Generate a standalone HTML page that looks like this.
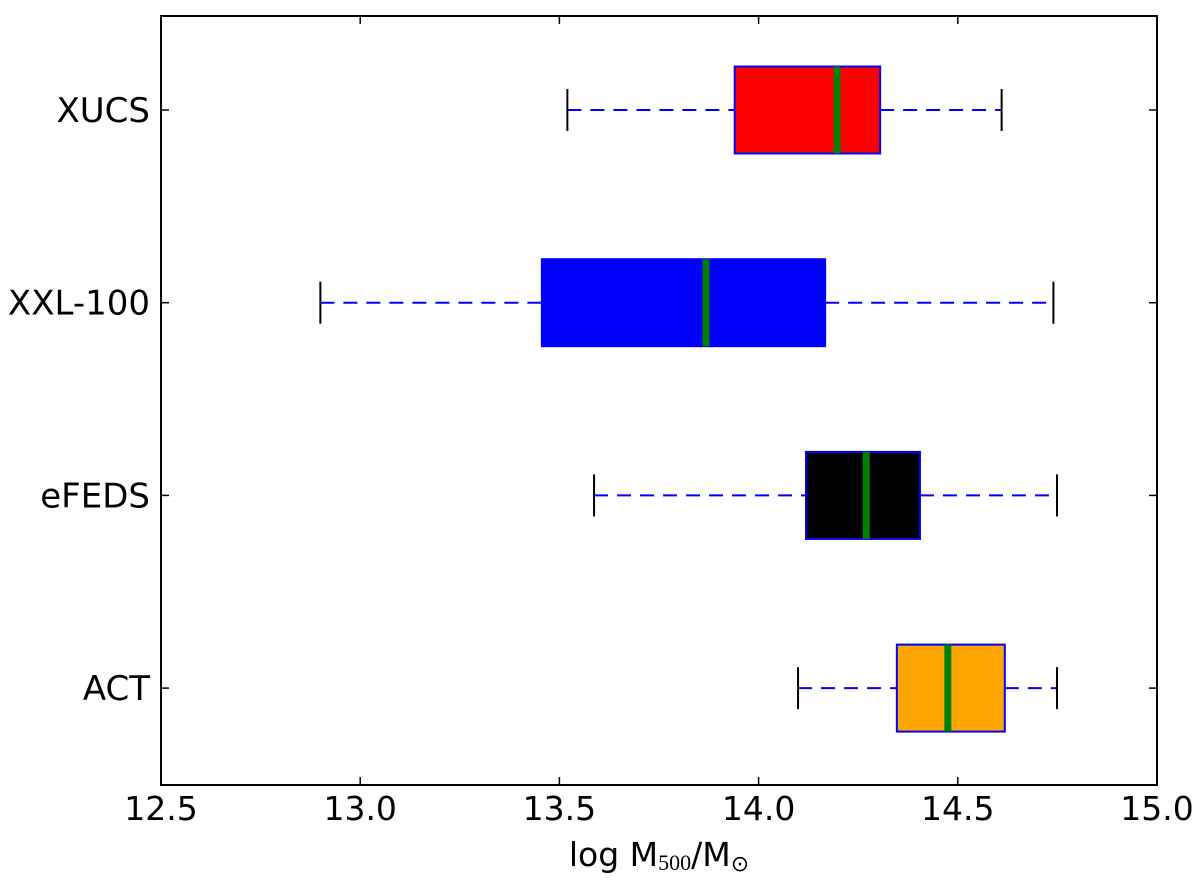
<!DOCTYPE html>
<html><head><meta charset="utf-8"><style>
html,body{margin:0;padding:0;background:#fff;}
svg{display:block;font-family:"DejaVu Sans","Liberation Sans",sans-serif;}
</style></head><body>
<svg id="chart" width="1200" height="882" xmlns="http://www.w3.org/2000/svg"></svg>
<script>
const categories = ["XUCS","XXL-100","eFEDS","ACT"];
const whiskLow = [13.52, 12.90, 13.587, 14.099];
const q1 = [13.94, 13.456, 14.119, 14.347];
const medians = [14.197, 13.868, 14.27, 14.475];
const q3 = [14.305, 14.167, 14.405, 14.618];
const whiskHigh = [14.61, 14.74, 14.749, 14.749];
const fills = ["#ff0000","#0000ff","#000000","#ffa500"];
const xTicks = [12.5,13.0,13.5,14.0,14.5,15.0];
const xTickLabels = ["12.5","13.0","13.5","14.0","14.5","15.0"];

const L=161,R=1157,T=16,B=785;
const xMin=12.5,xMax=15.0;
const x=v=>L+(v-xMin)/(xMax-xMin)*(R-L);
const y=i=>110+i*192.7;
const svg=document.getElementById('chart');
const NS='http://www.w3.org/2000/svg';
function mk(tag,attrs,name,parent){const e=document.createElementNS(NS,tag);for(const k in attrs)e.setAttribute(k,attrs[k]);


(parent||svg).appendChild(e);return e;}

categories.forEach((c,i)=>{
  const g=mk('g',{},'box-'+c.toLowerCase());
  const cy=y(i),h=43.5;
  mk('line',{x1:x(whiskLow[i]),x2:x(q1[i]),y1:cy,y2:cy,stroke:'#0000ff','stroke-width':2,'stroke-dasharray':'14,9'},'whisker-low',g);
  mk('line',{x1:x(q3[i]),x2:x(whiskHigh[i]),y1:cy,y2:cy,stroke:'#0000ff','stroke-width':2,'stroke-dasharray':'14,9'},'whisker-high',g);
  mk('line',{x1:x(whiskLow[i]),x2:x(whiskLow[i]),y1:cy-21,y2:cy+21,stroke:'#000','stroke-width':2},'cap-low',g);
  mk('line',{x1:x(whiskHigh[i]),x2:x(whiskHigh[i]),y1:cy-21,y2:cy+21,stroke:'#000','stroke-width':2},'cap-high',g);
  mk('rect',{x:x(q1[i]),y:cy-h,width:x(q3[i])-x(q1[i]),height:2*h,fill:fills[i],stroke:'#0000ff','stroke-width':2},'iqr-box',g);
  mk('line',{x1:x(medians[i]),x2:x(medians[i]),y1:cy-h,y2:cy+h,stroke:'#007f00','stroke-width':7},'median-line',g);
  mk('line',{x1:L,x2:L+8,y1:cy,y2:cy,stroke:'#000','stroke-width':1.5},'y-tick',g);
  mk('line',{x1:R-8,x2:R,y1:cy,y2:cy,stroke:'#000','stroke-width':1.5},'y-tick-right',g);
  const t=mk('text',{x:150,y:cy+12,'text-anchor':'end','font-size':34},'y-tick-label',g);t.textContent=c;
});
xTicks.forEach((v,i)=>{
  mk('line',{x1:x(v),x2:x(v),y1:B-8,y2:B,stroke:'#000','stroke-width':1.5},'x-tick');
  mk('line',{x1:x(v),x2:x(v),y1:T,y2:T+8,stroke:'#000','stroke-width':1.5},'x-tick-top');
  const t=mk('text',{x:x(v),y:820,'text-anchor':'middle','font-size':33},'x-tick-label');t.textContent=xTickLabels[i];
});
mk('rect',{x:L,y:T,width:R-L,height:B-T,fill:'none',stroke:'#000','stroke-width':2},'plot-frame');
const xl=mk('text',{x:659,y:866,'text-anchor':'middle','font-size':33},'x-axis-title');
xl.innerHTML='log M<tspan font-size="22" font-family="Liberation Serif, serif" dy="4">500</tspan><tspan dy="-4">/M</tspan><tspan font-size="22" dy="5">⊙</tspan>';
</script>
</body></html>
